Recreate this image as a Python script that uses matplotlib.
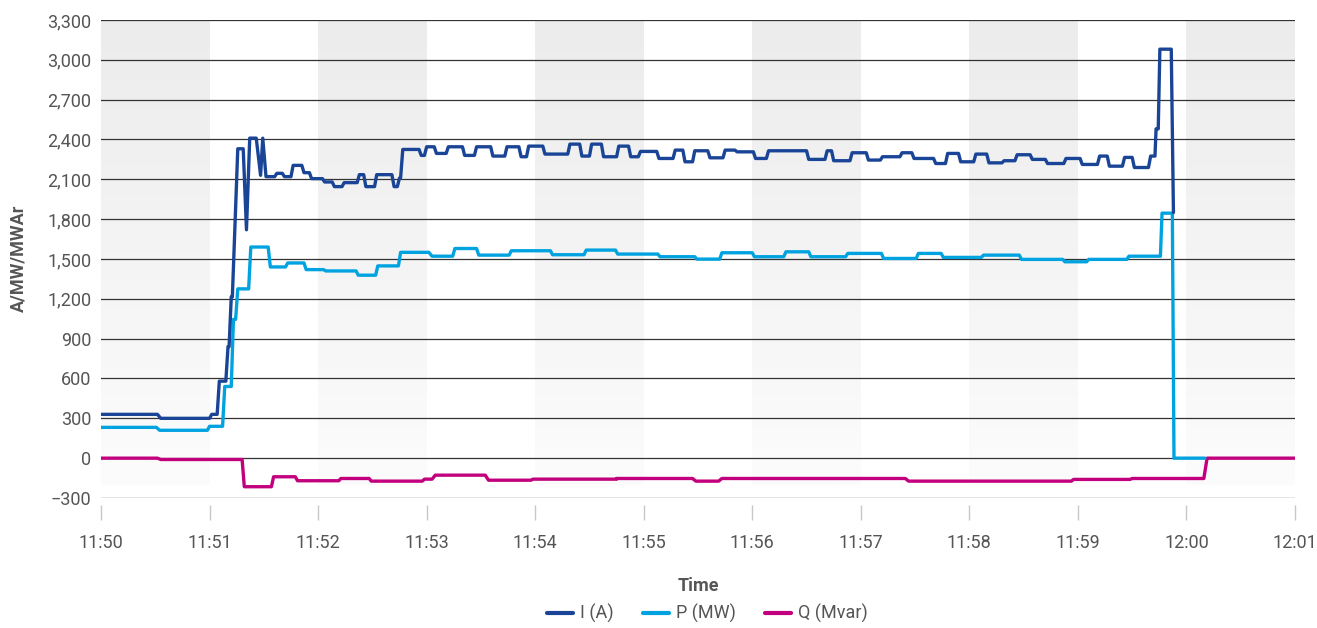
import numpy as np
import matplotlib
matplotlib.use("Agg")
import matplotlib.pyplot as plt
from matplotlib.colors import LinearSegmentedColormap

plt.rcParams['font.family'] = ['Roboto', 'DejaVu Sans']

# time in minutes after 11:50; each level = (start, end, value)
i_levels = [
    (0.00, 0.52, 330), (0.55, 1.00, 300), (1.02, 1.07, 330), (1.09, 1.15, 580),
    (1.17, 1.18, 840), (1.20, 1.21, 1215), (1.26, 1.31, 2330), (1.34, 1.34, 1720),
    (1.37, 1.43, 2410), (1.47, 1.47, 2130), (1.49, 1.49, 2410), (1.52, 1.60, 2120),
    (1.62, 1.67, 2145), (1.69, 1.75, 2120), (1.77, 1.85, 2205), (1.87, 1.92, 2150),
    (1.94, 2.04, 2105), (2.06, 2.13, 2080), (2.15, 2.22, 2045), (2.24, 2.36, 2075),
    (2.38, 2.42, 2135), (2.44, 2.52, 2045), (2.54, 2.68, 2135), (2.70, 2.73, 2045),
    (2.75, 2.76, 2110), (2.78, 2.93, 2325), (2.95, 2.98, 2280), (3.00, 3.07, 2345),
    (3.09, 3.18, 2295), (3.20, 3.33, 2345), (3.35, 3.44, 2280), (3.46, 3.59, 2345),
    (3.61, 3.72, 2275), (3.74, 3.85, 2345), (3.87, 3.92, 2270), (3.94, 4.07, 2350),
    (4.09, 4.30, 2290), (4.32, 4.41, 2365), (4.43, 4.50, 2275), (4.52, 4.61, 2365),
    (4.63, 4.75, 2270), (4.77, 4.86, 2350), (4.88, 4.95, 2270), (4.97, 5.12, 2310),
    (5.14, 5.27, 2257), (5.29, 5.36, 2320), (5.38, 5.45, 2232), (5.47, 5.59, 2315),
    (5.61, 5.73, 2262), (5.75, 5.84, 2320), (5.86, 6.01, 2307), (6.03, 6.13, 2257),
    (6.15, 6.50, 2315), (6.52, 6.67, 2250), (6.69, 6.73, 2315), (6.75, 6.90, 2240),
    (6.92, 7.05, 2300), (7.07, 7.18, 2245), (7.20, 7.36, 2270), (7.38, 7.47, 2300),
    (7.49, 7.67, 2257), (7.69, 7.78, 2219), (7.80, 7.90, 2295), (7.92, 8.04, 2232),
    (8.06, 8.16, 2290), (8.18, 8.30, 2224), (8.32, 8.42, 2240), (8.44, 8.56, 2285),
    (8.58, 8.70, 2250), (8.72, 8.87, 2219), (8.89, 9.02, 2257), (9.04, 9.18, 2212),
    (9.20, 9.27, 2275), (9.29, 9.41, 2199), (9.43, 9.50, 2265), (9.52, 9.65, 2189),
    (9.67, 9.71, 2275), (9.72, 9.74, 2480), (9.755, 9.86, 3080), (9.88, 9.88, 1850),
]

p_levels = [
    (0.00, 0.51, 232), (0.54, 0.98, 210), (1.00, 1.12, 240), (1.14, 1.20, 540),
    (1.22, 1.24, 1045), (1.26, 1.36, 1275), (1.38, 1.54, 1590), (1.56, 1.70, 1440),
    (1.72, 1.87, 1470), (1.89, 2.05, 1420), (2.07, 2.35, 1410), (2.37, 2.53, 1378),
    (2.55, 2.74, 1448), (2.76, 3.02, 1550), (3.05, 3.24, 1521), (3.26, 3.46, 1579),
    (3.48, 3.76, 1529), (3.78, 4.14, 1562), (4.16, 4.45, 1532), (4.47, 4.74, 1567),
    (4.76, 5.13, 1537), (5.15, 5.47, 1517), (5.49, 5.70, 1499), (5.72, 6.00, 1547),
    (6.02, 6.29, 1517), (6.31, 6.52, 1554), (6.54, 6.86, 1517), (6.88, 7.19, 1542),
    (7.21, 7.51, 1504), (7.53, 7.74, 1542), (7.76, 8.11, 1512), (8.13, 8.46, 1529),
    (8.48, 8.86, 1497), (8.88, 9.08, 1479), (9.10, 9.45, 1497), (9.47, 9.76, 1521),
    (9.775, 9.87, 1845), (9.885, 10.17, 0),
]

q_levels = [
    (0.00, 0.52, 0), (0.55, 1.30, -10), (1.32, 1.57, -215), (1.59, 1.79, -140),
    (1.81, 2.19, -170), (2.21, 2.47, -153), (2.49, 2.96, -173), (2.98, 3.05, -158),
    (3.08, 3.54, -128), (3.57, 3.96, -166), (3.98, 4.75, -158), (4.75, 5.45, -153),
    (5.48, 5.69, -173), (5.72, 7.41, -153), (7.44, 8.94, -173), (8.96, 9.48, -160),
    (9.50, 10.16, -153), (10.19, 11.00, 0),
]

series = [
    ('I (A)', i_levels, '#1a4596'),
    ('P (MW)', p_levels, '#00a3e0'),
    ('Q (Mvar)', q_levels, '#c2007e'),
]

x_ticks = list(range(12))
x_labels = ['11:50', '11:51', '11:52', '11:53', '11:54', '11:55',
            '11:56', '11:57', '11:58', '11:59', '12:00', '12:01']
y_ticks = list(range(-300, 3301, 300))


def to_xy(levels):
    t, v = [], []
    for s, e, val in levels:
        t.append(s)
        v.append(val)
        if e != s:
            t.append(e)
            v.append(val)
    return t, v


fig = plt.figure(figsize=(13.17, 6.28), dpi=100)
ax = fig.add_axes([0.0767, 0.207, 0.9066, 0.7612])

# shaded minute bands with vertical gradient
grad = np.linspace(0, 1, 256).reshape(-1, 1)
cmap = LinearSegmentedColormap.from_list('band', ['#fcfcfc', '#ececec'])
for m in range(0, 11, 2):
    ax.imshow(grad, cmap=cmap, aspect='auto', origin='lower',
              extent=[m, m + 1, -200, 3300], zorder=0, interpolation='bilinear')

for label, levels, color in reversed(series):
    t, v = to_xy(levels)
    ax.plot(t, v, color=color, lw=2.4, label=label, zorder=3,
            solid_joinstyle='round', solid_capstyle='round')

ax.set_xlim(0, 11)
ax.set_ylim(-300, 3300)
ax.set_yticks(y_ticks)
ax.set_yticklabels([f"{v:,}".replace('-', '\u2212') for v in y_ticks])
ax.set_xticks(x_ticks)
ax.set_xticklabels(x_labels)

ax.yaxis.grid(True, color='#333333', lw=0.9, zorder=1)
ax.set_axisbelow(True)
for s in ['top', 'right', 'left']:
    ax.spines[s].set_visible(False)
ax.spines['bottom'].set_position(('outward', 5))
ax.spines['bottom'].set_visible(False)

ax.tick_params(axis='y', length=0, pad=7, labelsize=13, labelcolor='#555555')
ax.tick_params(axis='x', length=11, width=1, color='#c8c8c8', pad=10,
               labelsize=13, labelcolor='#555555')

ax.set_xlabel('Time', fontsize=13, fontweight='bold', color='#555555', labelpad=18)
fig.text(0.0137, 0.589, 'A/MW/MWAr', rotation=90, ha='center', va='center',
         fontsize=13, fontweight='bold', color='#555555')

handles, labels = ax.get_legend_handles_labels()
leg = fig.legend(handles[::-1], labels[::-1], loc='center', bbox_to_anchor=(0.537, 0.023),
                 ncol=3, frameon=False, fontsize=13, handlelength=1.45,
                 handletextpad=0.4, columnspacing=1.6, labelcolor='#555555')
for h in leg.get_lines():
    h.set_linewidth(3)

fig.savefig('out.png', dpi=100)
